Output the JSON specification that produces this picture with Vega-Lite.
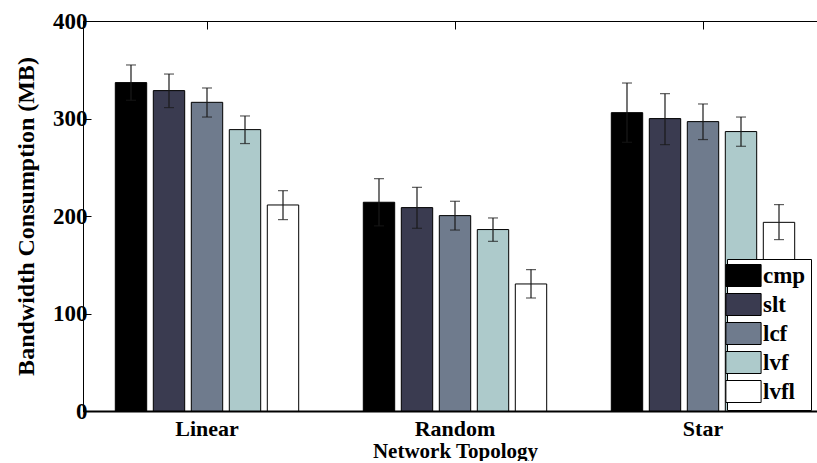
{
  "$schema": "https://vega.github.io/schema/vega-lite/v6.json",
  "width": 744,
  "height": 390,
  "padding": {"left": 14, "top": 10, "right": 0, "bottom": 0},
  "background": "white",
  "config": {
    "font": "Liberation Serif",
    "view": {"stroke": "black", "strokeWidth": 1},
    "axis": {
      "labelFont": "Liberation Serif",
      "labelFontWeight": "bold",
      "labelColor": "black",
      "titleFont": "Liberation Serif",
      "titleFontWeight": "bold",
      "titleColor": "black",
      "domainColor": "black",
      "tickColor": "black",
      "grid": false
    }
  },
  "data": {
    "values": [
      {"topology": "Linear", "method": "cmp", "value": 336.8, "lo": 318.7, "hi": 354.9},
      {"topology": "Linear", "method": "slt", "value": 328.6, "lo": 311.2, "hi": 345.6},
      {"topology": "Linear", "method": "lcf", "value": 316.6, "lo": 301.5, "hi": 331.3},
      {"topology": "Linear", "method": "lvf", "value": 288.6, "lo": 274.3, "hi": 302.6},
      {"topology": "Linear", "method": "lvfl", "value": 211.3, "lo": 196.3, "hi": 226.0},
      {"topology": "Random", "method": "cmp", "value": 214.1, "lo": 189.9, "hi": 238.3},
      {"topology": "Random", "method": "slt", "value": 208.6, "lo": 187.4, "hi": 229.4},
      {"topology": "Random", "method": "lcf", "value": 200.4, "lo": 185.6, "hi": 215.1},
      {"topology": "Random", "method": "lvf", "value": 186.1, "lo": 174.0, "hi": 198.0},
      {"topology": "Random", "method": "lvfl", "value": 130.3, "lo": 115.9, "hi": 145.0},
      {"topology": "Star", "method": "cmp", "value": 306.0, "lo": 275.6, "hi": 336.4},
      {"topology": "Star", "method": "slt", "value": 299.9, "lo": 273.2, "hi": 325.5},
      {"topology": "Star", "method": "lcf", "value": 296.8, "lo": 278.4, "hi": 314.9},
      {"topology": "Star", "method": "lvf", "value": 286.6, "lo": 271.5, "hi": 301.5},
      {"topology": "Star", "method": "lvfl", "value": 193.5, "lo": 175.8, "hi": 211.7}
    ]
  },
  "resolve": {"axis": {"x": "independent", "y": "independent"}},
  "layer": [
    {
      "mark": {"type": "bar", "stroke": "black", "strokeWidth": 1},
      "encoding": {
        "x": {
          "field": "topology", "type": "nominal", "sort": ["Linear", "Random", "Star"],
          "scale": {"paddingInner": 0, "paddingOuter": 0},
          "axis": {"orient": "bottom", "title": "Network Topology", "labelAngle": 0, "labelFontSize": 22, "labelPadding": 15, "titleFontSize": 21, "titlePadding": 1, "tickSize": -8, "domainWidth": 2}
        },
        "xOffset": {
          "field": "method", "type": "nominal", "sort": ["cmp", "slt", "lcf", "lvf", "lvfl"],
          "scale": {"paddingInner": 0.174, "paddingOuter": 0.85}
        },
        "y": {
          "field": "value", "type": "quantitative",
          "scale": {"domain": [0, 400], "nice": false},
          "axis": {"orient": "left", "title": "Bandwidth Consumption (MB)", "values": [0, 100, 200, 300, 400], "labelFontSize": 23, "titleFontSize": 24, "tickSize": -8, "labelPadding": 4, "titlePadding": 14}
        },
        "color": {
          "field": "method", "type": "nominal",
          "sort": ["cmp", "slt", "lcf", "lvf", "lvfl"],
          "scale": {"domain": ["cmp", "slt", "lcf", "lvf", "lvfl"], "range": ["#000000", "#3a3b50", "#6f7b8d", "#adcacb", "#ffffff"]},
          "legend": {
            "orient": "none", "legendX": 644, "legendY": 238, "title": null,
            "strokeColor": "black", "fillColor": "white", "padding": 5,
            "symbolType": "M-1.6,-1L1.6,-1L1.6,1L-1.6,1Z", "symbolSize": 484,
            "symbolStrokeColor": "black", "symbolStrokeWidth": 1, "symbolOpacity": 1,
            "labelFont": "Liberation Serif", "labelFontWeight": "bold", "labelFontSize": 23, "labelColor": "black",
            "labelOffset": 8, "rowPadding": 2
          }
        }
      }
    },
    {
      "mark": {"type": "rule", "color": "#1a1a1a", "strokeWidth": 1.2},
      "encoding": {
        "x": {"field": "topology", "type": "nominal", "sort": ["Linear", "Random", "Star"], "axis": {"orient": "top", "title": null, "labels": false, "tickSize": -8, "domain": false}},
        "xOffset": {"field": "method", "type": "nominal", "sort": ["cmp", "slt", "lcf", "lvf", "lvfl"]},
        "y": {"field": "lo", "type": "quantitative", "axis": {"orient": "right", "title": null, "labels": false, "values": [0, 100, 200, 300, 400], "tickSize": -8, "domain": false}},
        "y2": {"field": "hi"}
      }
    },
    {
      "mark": {"type": "tick", "color": "#1a1a1a", "size": 10, "thickness": 1.2},
      "encoding": {
        "x": {"field": "topology", "type": "nominal", "sort": ["Linear", "Random", "Star"], "axis": null},
        "xOffset": {"field": "method", "type": "nominal", "sort": ["cmp", "slt", "lcf", "lvf", "lvfl"]},
        "y": {"field": "lo", "type": "quantitative", "axis": null}
      }
    },
    {
      "mark": {"type": "tick", "color": "#1a1a1a", "size": 10, "thickness": 1.2},
      "encoding": {
        "x": {"field": "topology", "type": "nominal", "sort": ["Linear", "Random", "Star"], "axis": null},
        "xOffset": {"field": "method", "type": "nominal", "sort": ["cmp", "slt", "lcf", "lvf", "lvfl"]},
        "y": {"field": "hi", "type": "quantitative", "axis": null}
      }
    }
  ]
}
